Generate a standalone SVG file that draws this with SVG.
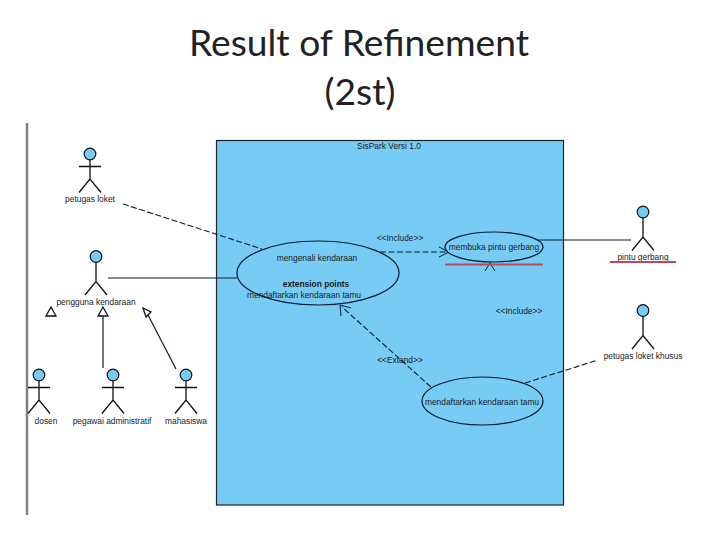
<svg xmlns="http://www.w3.org/2000/svg" width="720" height="540" viewBox="0 0 720 540">
<style>
text{font-family:"Liberation Sans",Arial,sans-serif;font-size:8.4px;fill:#1a1a1a;text-anchor:middle}
.title{font-family:Lato,"Open Sans",sans-serif;font-size:37.2px;fill:#222}
.bold{font-weight:bold}
.head{fill:#77ccf5;stroke:#111;stroke-width:1.2}
.limb{fill:none;stroke:#111;stroke-width:1.3}
.uc{fill:#77ccf5;stroke:#0a1a30;stroke-width:1.2}
.line{fill:none;stroke:#0a1a30;stroke-width:1.2}
.dash{fill:none;stroke:#0a1a30;stroke-width:1.1;stroke-dasharray:6 2.5}
.open{fill:none;stroke:#0a1a30;stroke-width:1}
.tri{fill:#fff;stroke:#111;stroke-width:1.3}
.red{stroke:#c0485a;stroke-width:1.8;fill:none}
</style>
<defs>
<g id="stick"><circle class="head" cx="0" cy="0" r="5.8"/><path class="limb" d="M0 6V25M-11 38.500L0 25L11 38.500"/></g>
<g id="stickArms"><circle class="head" cx="0" cy="0" r="5.8"/><path class="limb" d="M0 6V25M-11 12.500H11M-11 38.500L0 25L11 38.500"/></g>
</defs>
<g id="title"><text class="title" x="359" y="56">Result of Refinement</text><text class="title" x="360" y="105">(2st)</text></g>
<path id="side-rule" d="M27 123V515" stroke="#808080" stroke-width="2.500" fill="none"/>
<g id="system"><rect x="216.500" y="140.500" width="347" height="364.500" fill="#77ccf5" stroke="#222" stroke-width="1.200"/><text x="389" y="149">SisPark Versi 1.0</text></g>
<g id="connectors">
<path class="dash" d="M123 204L262 249"/>
<path class="line" d="M108 278H237"/>
<path class="line" d="M103 316V368"/>
<path class="line" d="M148 315L176 369"/>
<path class="dash" d="M380 252H447"/>
<path class="open" d="M439 247L449 252L439 257"/>
<path class="dash" d="M431 387L342 307"/>
<path class="open" d="M341 316L340 305L351 308"/>
<path class="line" d="M538 240H631"/>
<path class="dash" d="M525 383L598 360"/>
<path class="open" d="M485 271L490 263L495 271"/>
<polygon class="tri" points="51,307 46,316 56,316"/>
<polygon class="tri" points="103,307 98,316 108,316"/>
<polygon class="tri" points="143,308 151,312 146,317"/>
<text x="400" y="241">&lt;&lt;Include&gt;&gt;</text>
<text x="519" y="314">&lt;&lt;Include&gt;&gt;</text>
<text x="400" y="363">&lt;&lt;Extend&gt;&gt;</text>
</g>
<g id="uc-mengenali"><ellipse class="uc" cx="318" cy="273" rx="81" ry="32"/><text x="317" y="261">mengenali kendaraan</text><text class="bold" x="316" y="287">extension points</text><text x="304" y="298">mendaftarkan kendaraan tamu</text></g>
<g id="uc-membuka"><ellipse class="uc" cx="494" cy="247" rx="49" ry="15"/><text x="494" y="250">membuka pintu gerbang</text></g>
<path id="red-underline-usecase" class="red" d="M445 264.500H543"/>
<g id="uc-mendaftarkan"><ellipse class="uc" cx="482.500" cy="401" rx="60.500" ry="24"/><text x="482" y="405">mendaftarkan kendaraan tamu</text></g>
<g id="actor-petugas-loket"><use href="#stickArms" x="90" y="154"/><text x="90" y="202">petugas loket</text></g>
<g id="actor-pengguna"><use href="#stick" x="96" y="256.500"/><text x="96" y="305">pengguna kendaraan</text></g>
<g id="actor-dosen"><use href="#stickArms" x="39" y="375"/><text x="46" y="424">dosen</text></g>
<g id="actor-pegawai"><use href="#stickArms" x="113" y="375"/><text x="112" y="424">pegawai administratif</text></g>
<g id="actor-mahasiswa"><use href="#stickArms" x="186" y="375"/><text x="186" y="424">mahasiswa</text></g>
<g id="actor-pintu"><use href="#stick" x="643" y="212"/><text x="643" y="260">pintu gerbang</text><path class="red" d="M610 262H676"/></g>
<g id="actor-khusus"><use href="#stick" x="643" y="310.500"/><text x="643" y="359">petugas loket khusus</text></g>
</svg>
